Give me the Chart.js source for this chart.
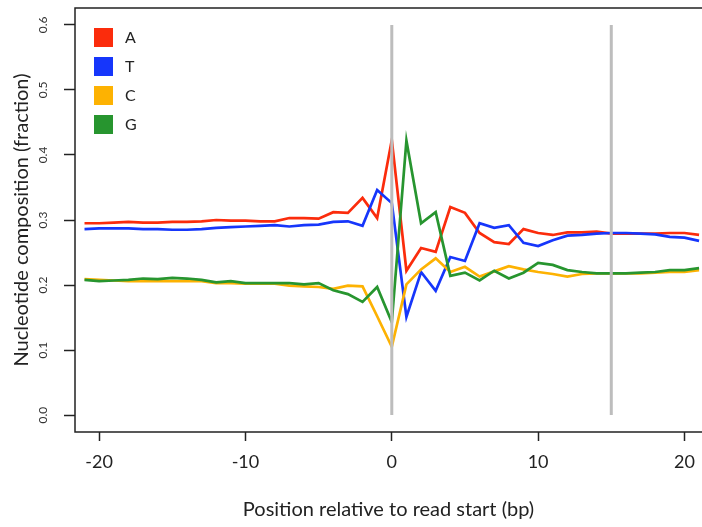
<!DOCTYPE html>
<html lang="en">
<head>
    <meta charset="UTF-8">
    <title>Nucleotide composition</title>
    <style>
      html, body { margin: 0; padding: 0; background: #fff; overflow: hidden; }
      #wrap { width: 702px; height: 527px; }
    </style>
    <script src="https://cdn.jsdelivr.net/npm/chart.js"></script>
</head>
<body>
    <div id="wrap"><canvas id="chart" width="702" height="527"></canvas></div>
    <script>
    // positions relative to read start
    const positions = [];
    for (let p = -21; p <= 21; p++) positions.push(p);

    const seriesA = [0.295, 0.295, 0.296, 0.297, 0.296, 0.296, 0.297, 0.297, 0.298, 0.300, 0.299,
                     0.299, 0.298, 0.298, 0.303, 0.303, 0.302, 0.312, 0.311, 0.334, 0.303,
                     0.423, 0.222, 0.257, 0.251, 0.320, 0.311, 0.280, 0.266, 0.263, 0.286, 0.280,
                     0.277, 0.281, 0.281, 0.282, 0.279, 0.279, 0.279, 0.279, 0.280, 0.280, 0.277];
    const seriesT = [0.286, 0.287, 0.287, 0.287, 0.286, 0.286, 0.285, 0.285, 0.286, 0.288, 0.289,
                     0.290, 0.291, 0.292, 0.290, 0.292, 0.293, 0.297, 0.298, 0.291, 0.346,
                     0.326, 0.151, 0.220, 0.191, 0.243, 0.237, 0.295, 0.288, 0.292, 0.265, 0.260,
                     0.269, 0.276, 0.277, 0.279, 0.280, 0.280, 0.279, 0.278, 0.274, 0.273, 0.268];
    const seriesC = [0.209, 0.208, 0.207, 0.206, 0.206, 0.206, 0.206, 0.206, 0.206, 0.203, 0.203,
                     0.202, 0.202, 0.202, 0.199, 0.198, 0.197, 0.194, 0.199, 0.198, 0.152,
                     0.105, 0.201, 0.224, 0.241, 0.220, 0.228, 0.213, 0.221, 0.229, 0.224, 0.220,
                     0.217, 0.213, 0.217, 0.218, 0.218, 0.218, 0.218, 0.219, 0.220, 0.220, 0.223];
    const seriesG = [0.208, 0.206, 0.207, 0.208, 0.210, 0.209, 0.211, 0.210, 0.208, 0.204, 0.206,
                     0.203, 0.203, 0.203, 0.203, 0.201, 0.203, 0.192, 0.186, 0.174, 0.197,
                     0.143, 0.422, 0.295, 0.312, 0.214, 0.219, 0.207, 0.222, 0.210, 0.219, 0.234,
                     0.231, 0.223, 0.220, 0.218, 0.218, 0.218, 0.219, 0.220, 0.223, 0.223, 0.226];

    const seriesNames = ['A', 'T', 'C', 'G'];
    const seriesColors = ['#fb2c0c', '#1636fb', '#fdb202', '#27952f'];
    const markerLines = [0, 15];
    const xTicks = [-20, -10, 0, 10, 20];
    const yTicks = [0, 0.1, 0.2, 0.3, 0.4, 0.5, 0.6];

    const fontFamily = 'Lato, "Liberation Sans", sans-serif';

    const allSeries = [seriesA, seriesT, seriesC, seriesG];
    const datasets = allSeries.map((vals, i) => ({
      label: seriesNames[i],
      data: vals.map((v, k) => ({ x: positions[k], y: v })),
      borderColor: seriesColors[i],
      borderWidth: 2.7,
      pointRadius: 0,
      tension: 0,
      order: 10 - i
    }));
    markerLines.forEach(m => {
      datasets.push({
        label: 'marker',
        data: [{ x: m, y: 0 }, { x: m, y: 0.6 }],
        borderColor: '#bdbdbd',
        borderWidth: 3,
        pointRadius: 0,
        order: 0
      });
    });

    // frame (right side runs off the page), rotated y labels, legend
    const extras = {
      id: 'extras',
      afterDraw(chart) {
        const ctx = chart.ctx;
        const a = chart.chartArea;
        const y = chart.scales.y;
        ctx.save();
        ctx.strokeStyle = '#222';
        ctx.lineWidth = 1.5;
        ctx.beginPath();
        ctx.moveTo(chart.width, a.top);
        ctx.lineTo(a.left, a.top);
        ctx.lineTo(a.left, a.bottom);
        ctx.lineTo(chart.width, a.bottom);
        ctx.stroke();

        ctx.fillStyle = '#333';
        ctx.font = '12px ' + fontFamily;
        ctx.textAlign = 'center';
        ctx.textBaseline = 'middle';
        yTicks.forEach(v => {
          const py = y.getPixelForValue(v);
          ctx.save();
          ctx.translate(43, py);
          ctx.rotate(-Math.PI / 2);
          ctx.fillText(v.toFixed(1), 0, 0);
          ctx.restore();
        });

        ctx.font = '16px ' + fontFamily;
        ctx.textAlign = 'left';
        seriesNames.forEach((n, i) => {
          const cy = 37 + i * 29;
          ctx.fillStyle = seriesColors[i];
          ctx.fillRect(94, cy - 9, 19, 19);
          ctx.fillStyle = '#222';
          ctx.fillText(n, 125, cy + 1);
        });
        ctx.restore();
      }
    };

    new Chart(document.getElementById('chart'), {
      type: 'line',
      data: { datasets: datasets },
      options: {
        responsive: false,
        animation: false,
        layout: { padding: { top: 8, left: 0, right: 0, bottom: 0 } },
        plugins: { legend: { display: false }, tooltip: { enabled: false } },
        scales: {
          x: {
            type: 'linear',
            min: -21.65,
            max: 21.2,
            afterBuildTicks: s => { s.ticks = xTicks.map(v => ({ value: v })); },
            afterFit: s => { s.height = 95; s.paddingRight = 0; },
            border: { display: false },
            grid: { drawOnChartArea: false, tickLength: 9, color: '#222', tickWidth: 1.5 },
            ticks: { color: '#222', padding: 10, font: { family: fontFamily, size: 18 } },
            title: {
              display: true,
              text: 'Position relative to read start (bp)',
              color: '#222',
              font: { family: fontFamily, size: 20 },
              padding: { top: 0, bottom: 5 }
            }
          },
          y: {
            min: -0.026,
            max: 0.626,
            afterBuildTicks: s => { s.ticks = yTicks.map(v => ({ value: v })); },
            afterFit: s => { s.width = 75; },
            border: { display: false },
            grid: { drawOnChartArea: false, tickLength: 11, color: '#222', tickWidth: 1.5 },
            ticks: { display: false },
            title: {
              display: true,
              text: 'Nucleotide composition (fraction)',
              color: '#222',
              font: { family: fontFamily, size: 20 },
              padding: { top: 10, bottom: 0 }
            }
          }
        }
      },
      plugins: [extras]
    });
    </script>
</body>
</html>
